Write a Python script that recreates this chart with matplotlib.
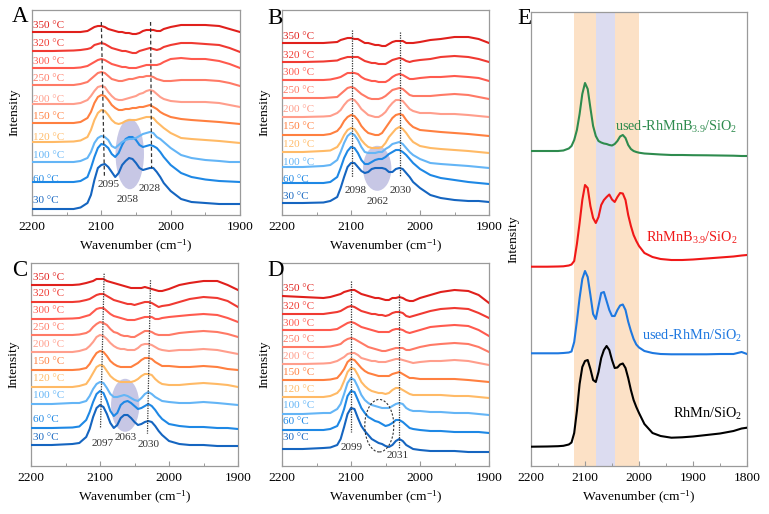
import matplotlib
matplotlib.use('Agg')
import matplotlib.pyplot as plt
from matplotlib.patches import Ellipse
from matplotlib.ticker import MultipleLocator

plt.rcParams['font.family'] = ['Liberation Serif', 'DejaVu Serif']
plt.rcParams['mathtext.fontset'] = 'custom'
plt.rcParams['mathtext.rm'] = 'Liberation Serif'
plt.rcParams['mathtext.it'] = 'Liberation Serif:italic'

# ---------------- data ----------------
temps = ['30 °C', '60 °C', '100 °C', '120 °C', '150 °C', '200 °C', '250 °C', '300 °C', '320 °C', '350 °C']
temp_colors = ['#1565C0', '#1E88E5', '#64B5F6', '#FFBA66', '#FF8040', '#FF9E8C',
               '#FF7A66', '#FF5A4E', '#F03A32', '#E0201C']

wn = [2200, 2170, 2140, 2130, 2120, 2115, 2110, 2105, 2100, 2095, 2090, 2085, 2080, 2075,
      2070, 2065, 2060, 2055, 2050, 2045, 2040, 2035, 2030, 2025, 2020, 2015, 2010, 2000,
      1985, 1970, 1950, 1930, 1915, 1900]

# Panel A
a30 = [6, 6, 6, 7.5, 12, 20, 35, 47, 50, 51, 48, 43, 38, 42, 50, 54, 57, 56, 52, 47, 45, 46, 47, 47, 43, 38, 32, 24, 16, 13, 12, 11, 11, 11]
a60 = [33, 33, 33, 34, 38, 47, 58, 67, 71, 70, 67, 61, 58, 62, 70, 76, 78, 78, 75, 70, 68, 69, 70, 69, 67, 63, 58, 50, 42, 38, 35.5, 34, 33.5, 33]
a100 = [53, 53, 53, 54, 57, 63, 72, 77, 79, 78, 75, 69, 67, 70, 73, 75, 76, 76, 77, 79, 81, 82, 83, 82, 78, 76, 73, 67, 60, 57, 55, 54, 53, 53]
a120 = [73, 73, 73.5, 74.5, 78, 85, 95, 102, 105, 104, 100, 95, 92, 91, 92, 94, 95, 95, 95, 96, 97, 98, 98, 97, 93, 90, 87, 82, 77, 76, 75, 74, 73, 72]
a150 = [92, 92, 92, 93, 97, 103, 112, 118, 120, 119, 115, 110, 107, 105, 105, 106, 106, 107, 107, 108, 108, 109, 110, 108, 106, 103, 101, 98, 96, 95, 94, 93, 92, 91]
a200 = [111, 111, 111, 112, 115, 119, 124, 128, 129, 128, 123, 119, 116, 115, 115, 116, 117, 118, 119, 121, 122, 124, 125, 124, 121, 118, 116, 114, 113, 113, 113, 112, 110, 108]
a250 = [130, 130, 130, 131, 133, 136, 139, 142, 143, 142, 139, 136, 135, 134, 134, 135, 136, 136, 137, 138, 138, 139, 139, 138, 136, 135, 134, 134, 135, 135, 135, 134, 132, 129]
a300 = [147, 147, 147, 147.5, 149, 151, 153, 155, 156, 155, 153, 151, 150, 149, 148, 148, 147, 147, 147, 148, 149, 150, 150, 150, 150, 151, 153, 156, 157, 156, 156, 154, 151, 147]
a320 = [164, 164, 164.5, 165, 166, 167, 170, 171, 172, 171, 169, 167, 166, 165, 164, 164, 163, 162, 162, 164, 165, 166, 167, 166, 165, 166, 168, 170, 172, 172, 171, 170, 167, 163]
a350 = [183, 183, 183, 183, 184, 186, 188, 189, 189, 188, 186, 185, 184, 183, 183, 182, 182, 181, 181, 182, 184, 185, 185, 185, 184, 184, 186, 188, 190, 190, 190, 189, 186, 183]

# Panel B
b30 = [12, 12, 12.5, 14, 18, 27, 38, 48, 52, 52, 48, 44, 42, 43, 46, 47, 47, 47, 46, 43, 43, 46, 47, 46, 42, 38, 33, 27, 20, 17, 15, 14, 14, 13]
b60 = [32, 32, 32, 33, 38, 47, 57, 64, 68, 67, 62, 55, 51, 51, 53, 55, 56, 56, 58, 61, 63, 65, 65, 63, 60, 56, 52, 46, 40, 37, 35, 33, 32, 31]
b100 = [48, 48, 49, 50, 55, 63, 72, 79, 82, 80, 75, 68, 63, 62, 62, 62, 63, 63, 66, 68, 71, 72, 73, 71, 67, 63, 60, 56, 52, 51, 50, 49, 48, 47]
b120 = [63, 63, 64, 64.5, 68, 73, 80, 85, 87, 86, 81, 75, 71, 68, 67, 67, 67, 68, 72, 78, 82, 86, 88, 86, 82, 77, 73, 69, 67, 66, 65, 64, 63, 62]
b150 = [80, 80, 80, 81, 84, 88, 94, 98, 100, 99, 95, 89, 85, 82, 81, 80, 80, 82, 87, 92, 97, 100, 101, 100, 95, 91, 88, 85, 84, 83, 82, 81, 80, 79]
b200 = [98, 98, 98.5, 99, 102, 105, 110, 114, 116, 115, 111, 106, 103, 100, 99, 98, 98, 100, 103, 108, 112, 115, 115, 114, 110, 106, 104, 102, 102, 101, 101, 100, 99, 98]
b250 = [117, 117, 117, 117.5, 118, 121, 124, 127, 128, 127, 124, 121, 119, 117, 116, 116, 116, 117, 119, 122, 125, 126, 127, 126, 123, 120, 119, 119, 119, 120, 121, 120, 118, 116]
b300 = [135, 135, 135, 135.5, 137, 138, 140, 142, 142, 142, 141, 138, 136, 135, 134, 134, 133, 133, 133, 135, 138, 140, 141, 140, 138, 136, 136, 137, 138, 138, 139, 138, 137, 134]
b320 = [153, 153, 153.5, 154, 154.5, 156, 157, 158, 158, 158, 158, 156, 154, 153, 152, 152, 151, 151, 151, 153, 155, 156, 157, 156, 154, 153, 154, 155, 156, 158, 159, 158, 156, 153]
b350 = [172, 172, 172, 172.5, 173, 175, 176, 177, 177, 176, 176, 174, 172, 172, 171, 170, 170, 169, 169, 171, 173, 174, 174, 174, 172, 172, 172, 173, 175, 176, 178, 178, 176, 172]

# Panel C
c30 = [21, 21, 22, 23, 29, 37, 49, 58, 61, 59, 52, 43, 38, 41, 48, 51, 51, 48, 44, 41, 42, 44, 45, 44, 40, 35, 31, 25, 22, 21, 21, 20, 20, 20]
c60 = [38, 38, 38.5, 39.5, 46, 54, 64, 72, 75, 73, 65, 55, 50, 53, 61, 64, 65, 63, 60, 57, 58, 60, 62, 60, 56, 51, 47, 42, 40, 39, 39, 38, 38, 37]
c100 = [62, 62, 63, 63, 65, 70, 77, 82, 84, 83, 78, 72, 69, 69, 70, 71, 70, 68, 66, 65, 68, 72, 74, 72, 69, 67, 65, 64, 63, 63, 64, 63, 62, 61]
c120 = [79, 79, 79, 80, 82, 87, 93, 99, 101, 100, 95, 90, 87, 85, 84, 84, 84, 84, 85, 87, 90, 92, 92, 91, 87, 84, 82, 81, 81, 82, 83, 82, 81, 79]
c150 = [96, 96, 96, 96.5, 98, 102, 108, 113, 115, 114, 110, 105, 102, 100, 99, 99, 99, 99, 101, 103, 106, 108, 108, 107, 104, 102, 100, 100, 99, 99, 100, 99, 97, 96]
c200 = [114, 114, 114, 115, 117, 120, 124, 129, 131, 130, 127, 123, 120, 118, 117, 117, 116, 116, 116, 118, 121, 122, 122, 121, 119, 117, 116, 115, 116, 116, 117, 116, 114, 112]
c250 = [131, 131, 131, 131.5, 133, 135, 139, 142, 144, 143, 141, 137, 134, 133, 131, 130, 130, 129, 129, 131, 133, 135, 135, 134, 132, 131, 131, 131, 133, 134, 135, 134, 132, 129]
c300 = [147, 147, 147.5, 148, 150, 151, 154, 157, 158, 158, 155, 152, 150, 149, 148, 147, 146, 146, 146, 147, 148, 149, 149, 149, 147, 147, 148, 149, 150, 151, 152, 151, 148, 144]
c320 = [164, 164, 164, 164.5, 166, 167, 169, 171, 172, 172, 170, 168, 166, 165, 164, 163, 162, 162, 161, 162, 163, 164, 164, 163, 161, 159, 160, 161, 164, 167, 169, 168, 165, 159]
c350 = [181, 181, 181, 181.5, 183, 184, 185, 187, 187, 187, 185, 184, 183, 182, 181, 180, 179, 178, 178, 178, 178, 179, 178, 177, 176, 175, 175, 177, 181, 183, 185, 185, 181, 176]

# Panel D
d30 = [17, 17, 18, 18.5, 21, 27, 39, 52, 58, 57, 48, 40, 35, 31, 27, 25, 23, 22, 20, 19, 21, 25, 27, 25, 21, 19, 17, 16, 15, 15, 15, 14, 14, 14]
d60 = [36, 36, 36, 37, 40, 47, 57, 70, 75, 74, 66, 58, 53, 49, 47, 45, 44, 42, 40, 41, 43, 46, 46, 44, 41, 38, 37, 36, 35, 35, 34, 34, 34, 33]
d100 = [52, 52, 53, 53, 57, 62, 72, 83, 88, 86, 79, 71, 66, 63, 61, 60, 59, 58, 58, 58, 60, 62, 63, 62, 58, 56, 55, 55, 54, 54, 53, 53, 52, 51]
d120 = [69, 69, 69, 70, 73, 77, 85, 94, 98, 97, 91, 84, 80, 77, 75, 74, 73, 73, 72, 73, 76, 78, 78, 76, 74, 72, 71, 71, 71, 71, 70, 70, 69, 68]
d150 = [86, 86, 86, 86.5, 88, 92, 97, 104, 107, 106, 102, 98, 95, 93, 92, 91, 90, 90, 90, 90, 92, 93, 94, 92, 90, 88, 88, 87, 87, 87, 87, 86, 85, 84]
d200 = [102, 102, 102.5, 103, 105, 107, 109, 112, 113, 113, 111, 108, 107, 106, 105, 105, 104, 104, 104, 105, 106, 107, 107, 106, 105, 104, 103, 104, 105, 105, 106, 105, 103, 101]
d250 = [119, 119, 119, 119.5, 121, 122, 125, 127, 128, 127, 125, 123, 121, 119, 118, 117, 116, 115, 115, 116, 117, 118, 118, 118, 116, 116, 117, 119, 121, 122, 123, 122, 119, 114]
d300 = [136, 136, 136, 136, 137, 139, 141, 143, 144, 143, 141, 139, 138, 137, 136, 135, 134, 134, 134, 134, 136, 137, 137, 136, 134, 133, 134, 136, 139, 140, 141, 140, 136, 130]
d320 = [152, 152, 152, 153, 154, 155, 157, 159, 160, 159, 157, 155, 154, 153, 152, 152, 151, 151, 150, 151, 153, 154, 154, 153, 150, 149, 150, 152, 155, 157, 158, 157, 153, 148]
d350 = [170, 169, 168, 169, 171, 172, 174, 175, 176, 176, 174, 172, 171, 170, 169, 168, 168, 167, 166, 166, 168, 168, 169, 168, 166, 165, 165, 168, 171, 174, 176, 175, 171, 163]

# Panel E
wnE = [2200, 2170, 2150, 2140, 2130, 2125, 2120, 2115, 2110, 2105, 2100, 2095, 2090, 2085,
       2080, 2075, 2070, 2065, 2060, 2055, 2050, 2045, 2040, 2035, 2030, 2025, 2020, 2015,
       2010, 2005, 2000, 1990, 1975, 1960, 1940, 1920, 1900, 1875, 1850, 1825, 1810, 1800]
e_used_b = [315, 315, 315, 315.5, 317.5, 320, 326, 336, 352, 372, 383, 377, 358, 340, 330, 325, 323.5, 322.5, 322, 321, 320.5, 322, 325, 329.5, 331, 328, 321, 317, 315, 314, 313.3, 312.5, 312, 311.5, 311, 311, 310.8, 310.7, 310.5, 310.3, 310, 310]
e_b = [199.3, 199.3, 199.5, 199.7, 200.5, 201.5, 205, 222, 243, 266, 281, 278, 260, 248, 243, 249, 261, 266, 269, 271.5, 266.5, 264, 269, 273, 272.5, 266, 251, 240, 231, 225, 220, 213, 209, 207, 206, 206, 206.5, 207.5, 208.5, 209.5, 210.5, 211]
e_used = [112.7, 112.7, 112.7, 113, 113.5, 114.5, 124, 145, 168, 187, 195, 189, 171, 152, 147, 160, 173, 174, 165, 156, 150, 150, 156, 160.5, 161.5, 156, 144.3, 135, 127, 121.5, 118.5, 115, 113, 112, 111.7, 111.7, 111.7, 111.7, 112, 112, 114, 112]
e_rhmn = [19.3, 19.5, 19.8, 20.2, 21.5, 23.5, 33, 55, 82, 99, 105, 106, 97, 86, 84, 94, 108, 116, 120, 116, 106, 98, 98.5, 101.5, 102.5, 98, 88, 76, 66, 59, 53, 42, 33, 30, 28.3, 28.7, 29.5, 31, 32.5, 35, 37.5, 38.3]
e_names = ['used-RhMnB$_{\\mathit{3.9}}$/SiO$_2$', 'RhMnB$_{\\mathit{3.9}}$/SiO$_2$',
           'used-RhMn/SiO$_2$', 'RhMn/SiO$_2$']
e_colors = ['#2E8B4E', '#F01818', '#1E78E0', '#000000']
bands = [2120, 2079, 2045, 2000]

peaksA = ['2095', '2058', '2028']
peaksB = ['2098', '2062', '2030']
peaksC = ['2097', '2063', '2030']
peaksD = ['2099', '2031']

# ---------------- layout ----------------
W, H = 769, 514
fig = plt.figure(figsize=(W / 100, H / 100), dpi=100)


def frac(x0, y0, x1, y1):
    return [x0 / W, 1 - y1 / H, (x1 - x0) / W, (y1 - y0) / H]


FRAME = '#9A9A9A'


def style(ax, xmax, xmin, ytop):
    ax.set_xlim(xmax, xmin)
    ax.set_ylim(0, ytop)
    ax.xaxis.set_major_locator(MultipleLocator(100))
    ax.xaxis.set_minor_locator(MultipleLocator(50))
    ax.tick_params(axis='x', which='major', direction='in', length=3.5, width=0.8,
                   color=FRAME, labelsize=9.7, pad=4)
    ax.tick_params(axis='x', which='minor', direction='in', length=2, width=0.7, color=FRAME)
    ax.set_yticks([])
    for s in ax.spines.values():
        s.set_color(FRAME)
        s.set_linewidth(0.9)
    ax.set_xlabel('Wavenumber (cm$^{-1}$)', fontsize=9.7, labelpad=4)
    ax.set_ylabel('Intensity', fontsize=9.7, labelpad=8)


def panel(box, ytop, curves, label_x, label_y, vlines, vstyle, ann, peaks, ell, ell_fill):
    ax = fig.add_axes(frac(*box))
    style(ax, 2200, 1900, ytop)
    for y, c, t, ly in zip(curves, temp_colors, temps, label_y):
        ax.plot(wn, y, color=c, lw=1.5, zorder=3, solid_joinstyle='round')
        ax.text(label_x, ly, t, color=c, fontsize=8, ha='left', va='center', zorder=4)
    for (x0, y0, x1, y1) in vlines:
        ax.plot([x0, x1], [y0, y1], color='#333333', lw=0.9, linestyle=vstyle, zorder=4)
    for txt, (x, y) in zip(peaks, ann):
        ax.text(x, y, txt, fontsize=8, color='#333333', ha='center', va='center', zorder=5)
    cx, cy, ew, eh = ell
    if ell_fill:
        ax.add_patch(Ellipse((cx, cy), ew, eh, facecolor='#A9A9D8', edgecolor='none',
                             alpha=0.65, zorder=2))
    else:
        ax.add_patch(Ellipse((cx, cy), ew, eh, facecolor='none', edgecolor='#333333',
                             lw=0.8, linestyle=(0, (2, 1.5)), zorder=5))
    return ax


panel((32, 10, 240, 215), 205, [a30, a60, a100, a120, a150, a200, a250, a300, a320, a350],
      2198, [14.3, 36, 59.3, 77.7, 98.3, 116, 136.7, 154, 171.7, 190],
      [(2100, 193, 2095.5, 37), (2029, 193, 2027.5, 47)], (0, (3, 2)),
      [(2089, 31), (2061.5, 16), (2030, 26.7)], peaksA, (2059, 61, 41, 70.5), True)

panel((282, 10, 489, 215), 205, [b30, b60, b100, b120, b150, b200, b250, b300, b320, b350],
      2198.5, [18.3, 36, 52.7, 70.7, 88.3, 106, 124.3, 142.3, 160, 178.3],
      [(2098, 185, 2098, 38.3), (2029.5, 182.7, 2029.5, 38.3)], (0, (1, 1)),
      [(2093.7, 25), (2061.8, 14), (2028.5, 24.3)], peaksB, (2062, 46.7, 41, 45), True)

panel((31, 263, 238, 466), 203, [c30, c60, c100, c120, c150, c200, c250, c300, c320, c350],
      2196.6, [29, 46.7, 70, 87.3, 104, 121.3, 139, 155.7, 172.3, 188],
      [(2094, 192.3, 2099.3, 37.3), (2026.8, 185.7, 2031.2, 32.3)], (0, (1, 1)),
      [(2096.3, 22.3), (2062.5, 28), (2030.2, 21.3)], peaksC, (2063.5, 60.7, 41, 53), True)

panel((282, 263, 489, 466), 203, [d30, d60, d100, d120, d150, d200, d250, d300, d320, d350],
      2198.5, [28, 44, 60, 76.7, 93.3, 109.7, 126.3, 142.3, 159.7, 177.3],
      [(2099.5, 184.7, 2099.5, 34), (2031, 172.3, 2031, 17.3)], (0, (1, 1)),
      [(2098.6, 19), (2031.9, 10.7)], peaksD, (2059, 40.3, 42, 52.5), False)

# Panel E
axE = fig.add_axes(frac(531, 12, 747, 466))
style(axE, 2200, 1800, 454)
band_cols = ['#FCE1C6', '#DCDCF0', '#FCE1C6']
for i, col in enumerate(band_cols):
    axE.axvspan(bands[i], bands[i + 1], color=col, lw=0, zorder=0)
e_series = [e_used_b, e_b, e_used, e_rhmn]
e_text_pos = [(1818.5, 335.3), (1818.5, 224.3), (1809, 126), (1809, 48.3)]
for y, c, name, (tx, ty) in zip(e_series, e_colors, e_names, e_text_pos):
    axE.plot(wnE, y, color=c, lw=1.5, zorder=3)
    axE.text(tx, ty, name, color=c, fontsize=10.3, ha='right', va='baseline', zorder=4)

# Panel letters
for letter, x, y in [('A', 12, 17), ('B', 267, 18), ('C', 12, 270), ('D', 267, 271), ('E', 517, 18)]:
    fig.text(x / W, 1 - y / H, letter, fontsize=16.5, ha='left', va='center')

fig.savefig('out.png', dpi=100)
